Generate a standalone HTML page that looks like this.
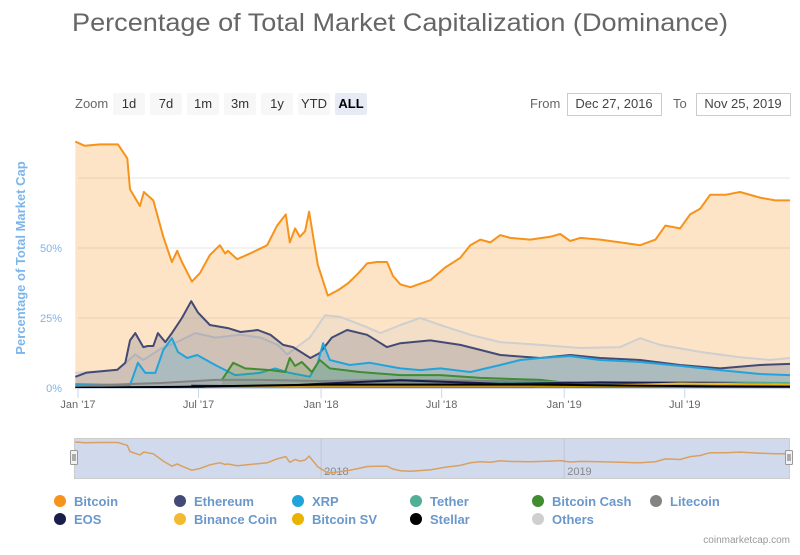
<!DOCTYPE html>
<html><head><meta charset="utf-8"><style>
body{margin:0;background:#fff;font-family:"Liberation Sans",sans-serif}
</style></head><body>
<svg id="c" width="800" height="550" xmlns="http://www.w3.org/2000/svg" style="font-family:'Liberation Sans',sans-serif">
<text x="72" y="31" textLength="656" lengthAdjust="spacingAndGlyphs" font-size="25" fill="#666">Percentage of Total Market Capitalization (Dominance)</text>
<g>
<text x="75" y="108" font-size="13" fill="#666">Zoom</text>
<g><rect x="113" y="93" width="32" height="22" fill="#f7f7f7" rx="2"/><text x="129" y="108" text-anchor="middle" font-size="13" fill="#333">1d</text></g>
<g><rect x="150" y="93" width="32" height="22" fill="#f7f7f7" rx="2"/><text x="166" y="108" text-anchor="middle" font-size="13" fill="#333">7d</text></g>
<g><rect x="187" y="93" width="32" height="22" fill="#f7f7f7" rx="2"/><text x="203" y="108" text-anchor="middle" font-size="13" fill="#333">1m</text></g>
<g><rect x="224" y="93" width="32" height="22" fill="#f7f7f7" rx="2"/><text x="240" y="108" text-anchor="middle" font-size="13" fill="#333">3m</text></g>
<g><rect x="261" y="93" width="32" height="22" fill="#f7f7f7" rx="2"/><text x="277" y="108" text-anchor="middle" font-size="13" fill="#333">1y</text></g>
<g><rect x="298" y="93" width="32" height="22" fill="#f7f7f7" rx="2"/><text x="314" y="108" text-anchor="middle" font-size="13" fill="#333">YTD</text></g>
<g><rect x="335" y="93" width="32" height="22" fill="#e6ebf5" rx="2"/><text x="351" y="108" text-anchor="middle" font-size="13" font-weight="bold" fill="#000">ALL</text></g>
</g>
<text x="530" y="108" font-size="13" fill="#666">From</text>
<g><rect x="567.5" y="93.5" width="94" height="22" fill="#fff" stroke="#ccc"/><text x="614" y="108" text-anchor="middle" font-size="13" fill="#444">Dec 27, 2016</text></g>
<text x="673" y="108" font-size="13" fill="#666">To</text>
<g><rect x="696.5" y="93.5" width="94" height="22" fill="#fff" stroke="#ccc"/><text x="743" y="108" text-anchor="middle" font-size="13" fill="#444">Nov 25, 2019</text></g>
<text transform="translate(25,258) rotate(-90)" text-anchor="middle" font-size="13" font-weight="bold" fill="#7cb5ec">Percentage of Total Market Cap</text>
<g id="grid"></g><g id="series"></g><g id="xaxis"></g><g id="nav"></g><g id="legend"></g>
<text x="790" y="543" text-anchor="end" font-size="10" fill="#999">coinmarketcap.com</text>
</svg>
<script>
const NS="http://www.w3.org/2000/svg";
const seriesNames=["Others","Litecoin","Stellar","EOS","Binance Coin","Bitcoin SV","Tether","Bitcoin Cash","XRP","Ethereum","Bitcoin"];
const seriesColors=["#cfcfcf","#838383","#000000","#1b1e4b","#f3ba2f","#eab300","#50af95","#3f8c31","#23a3db","#434a75","#f7931a"];
const btcDays=[-4,10,33,60,74,78,93,99,113,128,141,149,156,171,183,198,213,221,225,239,258,284,299,312,318,326,333,341,347,360,375,383,391,406,421,434,449,464,473,484,499,529,551,574,589,604,619,634,649,679,709,724,739,754,784,814,844,867,882,904,919,934,949,972,994,1024,1047,1069];
const btcVals=[88,86.5,87,87,82,71,65,70,67,54,45,49,45,38,41,47.5,51,48,49,46,48,51,58,62,52,57,54,56,63,44,33,34,35,37.5,41,44.5,45,45,40,37,36,38.5,43,46.5,51,53,52,54.6,53.6,53,54,55,52.5,53.6,53,52,51,53,58,57,62,64,69,69,70,68,67,67];
const ethDays=[-4,13,59,71,78,86,98,105,113,120,131,141,156,170,180,198,225,244,270,289,308,323,349,363,381,404,434,464,484,529,574,604,634,694,739,784,844,904,964,1024,1069];
const ethVals=[4,5.5,6.5,9,17,19.6,14.6,15,15,19.6,16.4,19.6,25,31,27,22.5,21.4,20,20.7,19,15.4,14.6,10.7,12.5,18,20.7,19,14.6,16,17,15.4,13.6,11.8,10.7,11.8,10.7,10,8.2,7,8.2,8.6];
const othDays=[-4,59,86,98,124,154,176,206,244,274,300,314,333,348,371,394,431,454,484,514,544,589,634,694,754,814,844,874,934,994,1039,1069];
const othVals=[5.4,6.4,12,10,14,17,19.6,18,19,18,15.4,12,15.4,18,26,25.4,22,19.6,22.5,25,22.5,19,16.4,15.4,14.3,14.6,17.8,15.4,12.9,11,10,10.7];
const xrpDays=[-4,78,90,101,116,128,141,150,164,179,206,236,273,296,318,348,360,368,378,408,438,484,514,544,589,634,664,694,739,784,844,904,964,1024,1069];
const xrpVals=[1.4,1,9,5.4,5.4,13.6,17.8,12.9,10.7,11.8,8.2,4.6,5.4,7,5.4,4,9,16,10,8.2,9,7,6.4,7,5.7,8.2,10,10.7,11.4,10,9.3,7.9,6.4,5,4.6];
const bchDays=[216,233,251,289,311,318,326,336,351,363,378,423,484,544,604,694,724,784,934,1069];
const bchVals=[2.9,9,7,6.4,5.7,10.7,7.9,9.3,5.7,10,7,5.7,4.6,4.6,3.6,2.9,2.1,1.8,1.4,1.4];
const ltcDays=[-4,124,206,274,363,484,634,784,934,1069];
const ltcVals=[0.7,1.8,2.9,2.9,2.5,2.9,2.5,1.8,2.1,1.8];
const eosDays=[170,300,363,484,634,784,934,1069];
const eosVals=[0.8,0.6,1.5,2.8,1.5,2,1.8,1.1];
const usdtDays=[-4,363,484,634,784,934,1069];
const usdtVals=[0.1,0.8,1.2,1.8,2,1.6,1.8];
const bnbDays=[190,363,634,784,904,1069];
const bnbVals=[0.1,0.5,0.6,0.8,1.6,1.2];
const bsvDays=[684,784,934,994,1069];
const bsvVals=[0.5,0.6,0.6,1.1,0.9];
const xlmDays=[-4,150,363,484,694,934,1069];
const xlmVals=[0.1,0.4,1.2,1.2,1.2,0.6,0.5];
const yTicks=[0,25,50,75];
const yTickLabels=["0%","25%","50%",""];
const xTickDays=[0,181,365,546,730,911];
const xTickLabels=["Jan '17","Jul '17","Jan '18","Jul '18","Jan '19","Jul '19"];
const navTickDays=[365,730];
const navTickLabels=["2018","2019"];
const legendOrder=["Bitcoin","Ethereum","XRP","Tether","Bitcoin Cash","Litecoin","EOS","Binance Coin","Bitcoin SV","Stellar","Others"];

const X0=78,X1=790,D1=1069;
const xs=d=>Math.max(75,Math.min(X1,X0+d*(X1-X0)/D1));
const y=v=>388-v*2.8;
const ny=v=>491.6-v*0.564;
function el(t,a,p){const e=document.createElementNS(NS,t);for(const k in a)e.setAttribute(k,a[k]);p.appendChild(e);return e;}
const g=document.getElementById('grid');
yTicks.forEach((t,i)=>{
  const l=el('line',{x1:X0,x2:X1,y1:y(t),y2:y(t),stroke:'#e6e6e6'},g);
  
  
  if(yTickLabels[i]){const tx=el('text',{x:62,y:y(t)+4,'text-anchor':'end','font-size':11,fill:'#7cb5ec'},g);tx.textContent=yTickLabels[i];
  
  }
});
const map={"Bitcoin":[btcDays,btcVals],"Ethereum":[ethDays,ethVals],"Others":[othDays,othVals],"XRP":[xrpDays,xrpVals],"Bitcoin Cash":[bchDays,bchVals],"Litecoin":[ltcDays,ltcVals],"EOS":[eosDays,eosVals],"Tether":[usdtDays,usdtVals],"Binance Coin":[bnbDays,bnbVals],"Bitcoin SV":[bsvDays,bsvVals],"Stellar":[xlmDays,xlmVals]};
const sg=document.getElementById('series');
const drawOrder=["Bitcoin","Others","Ethereum","XRP","Bitcoin Cash","Litecoin","Tether","EOS","Binance Coin","Bitcoin SV","Stellar"];
drawOrder.forEach(n=>{
  const [ds,vs]=map[n];const c=seriesColors[seriesNames.indexOf(n)];
  const pts=ds.map((d,i)=>xs(d).toFixed(1)+','+y(vs[i]).toFixed(1));
  const area='M'+xs(ds[0])+','+y(0)+' L'+pts.join(' L')+' L'+xs(ds[ds.length-1])+','+y(0)+'Z';
  const a=el('path',{d:area,fill:c,'fill-opacity':n==="Bitcoin"?0.25:0.2,stroke:'none'},sg);
  
  
  const l=el('path',{d:'M'+pts.join(' L'),fill:'none',stroke:c,'stroke-width':2,'stroke-linejoin':'round'},sg);
  
  
});
const xa=document.getElementById('xaxis');
const al=el('line',{x1:X0-3,x2:X1,y1:388.5,y2:388.5,stroke:'#ccd6eb'},xa);


xTickDays.forEach((d,i)=>{
  el('line',{x1:xs(d),x2:xs(d),y1:389,y2:398,stroke:'#ccd6eb'},xa);
  const t=el('text',{x:xs(d),y:408,'text-anchor':'middle','font-size':11,fill:'#666'},xa);t.textContent=xTickLabels[i];
  
  
});
const nv=document.getElementById('nav');
const nb=el('rect',{x:74.5,y:438.5,width:715,height:40,fill:'rgba(102,133,194,0.3)',stroke:'#ccc'},nv);


navTickDays.forEach((d,i)=>{
  el('line',{x1:xs(d),x2:xs(d),y1:439,y2:478,stroke:'#c0c6d6'},nv);
  const t=el('text',{x:xs(d)+3,y:475,'font-size':11,fill:'#888'},nv);t.textContent=navTickLabels[i];
  
  
});
const np=el('path',{d:'M'+btcDays.map((d,i)=>xs(d).toFixed(1)+','+ny(btcVals[i]).toFixed(1)).join(' L'),fill:'none',stroke:'#d9a05f','stroke-width':1.5},nv);


[74,789].forEach((hx,i)=>{
  const h=el('rect',{x:hx-3.5,y:450.5,width:7,height:14,fill:'#f2f2f2',stroke:'#999',rx:1},nv);
  
  
  el('line',{x1:hx-1,x2:hx-1,y1:454,y2:461,stroke:'#666'},nv);el('line',{x1:hx+1,x2:hx+1,y1:454,y2:461,stroke:'#666'},nv);
});
const lg=document.getElementById('legend');
const colX=[60,180,298,416,538,656];
legendOrder.forEach((n,i)=>{
  const cx=colX[i%6],cy=i<6?501:519;
  const gg=el('g',{},lg);
  
  
  el('circle',{cx:cx,cy:cy,r:6,fill:seriesColors[seriesNames.indexOf(n)]},gg);
  const t=el('text',{x:cx+14,y:cy+5,'font-size':13,'font-weight':'bold',fill:'#6a98cc'},gg);t.textContent=n;
});
</script>
</body></html>
